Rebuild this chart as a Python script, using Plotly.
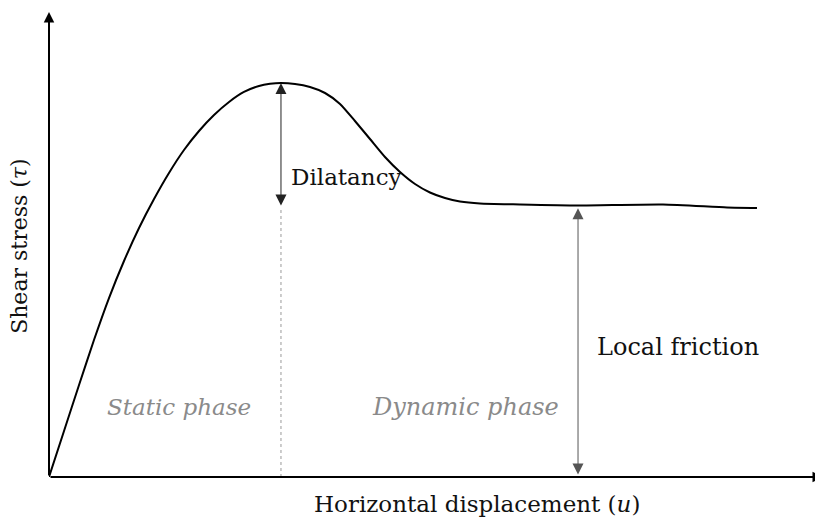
import plotly.graph_objects as go

# Shear stress curve (normalised units)
u = [0, 1.94, 3.88, 5.81, 7.75, 9.69, 11.63, 13.57, 15.50, 17.44, 19.38, 21.32,
     23.26, 25.19, 27.13, 28.55, 29.97,
     31.78, 33.72, 35.66, 37.60, 39.53, 41.47, 43.41, 45.35, 47.29, 49.22, 51.16,
     53.10, 55.68, 60.85, 68.35, 79.33, 87.60, 91.47]
tau = [0, 9.89, 19.78, 29.46, 38.49, 46.45, 53.55, 59.78, 65.38, 70.32, 74.41, 77.85,
       80.65, 82.80, 84.09, 84.56, 84.73,
       84.52, 83.87, 82.58, 80.22, 76.56, 72.69, 68.82, 65.59, 63.01, 61.18, 60.00,
       59.25, 58.82, 58.60, 58.39, 58.60, 57.96, 57.85]

friction_u = 68.35
friction_tau = 58.39
axis_max = 100

labels = {
    "dilatancy": "Dilatancy",
    "friction": "Local friction",
    "static": "Static phase",
    "dynamic": "Dynamic phase",
    "xtitle": "Horizontal displacement (<i>u</i>)",
    "ytitle": "Shear stress (<i>τ</i>)",
}

peak_i = tau.index(max(tau))
peak_u, peak_tau = u[peak_i], tau[peak_i]

FONT = "Georgia, 'DejaVu Serif', serif"

fig = go.Figure()
fig.add_trace(go.Scatter(x=u, y=tau, mode="lines",
                         line=dict(color="black", width=2, shape="spline", smoothing=0.6),
                         hoverinfo="skip", showlegend=False))
# dotted separator between phases
fig.add_trace(go.Scatter(x=[peak_u, peak_u], y=[0, friction_tau - 0.5], mode="lines",
                         line=dict(color="#999999", width=1, dash="dot"),
                         hoverinfo="skip", showlegend=False))

ann = []
# axes arrows
ann.append(dict(x=0, y=axis_max, ax=0, ay=0, xref="x", yref="y", axref="x", ayref="y",
                text="", showarrow=True, arrowhead=2, arrowsize=1.05, arrowwidth=2,
                arrowcolor="black", standoff=0, startstandoff=0))
ann.append(dict(x=axis_max, y=0, ax=0, ay=0, xref="x", yref="y", axref="x", ayref="y",
                text="", showarrow=True, arrowhead=2, arrowsize=1.05, arrowwidth=2,
                arrowcolor="black", standoff=0, startstandoff=0))
# dilatancy double arrow
ann.append(dict(x=peak_u, y=peak_tau, ax=peak_u, ay=friction_tau - 0.3, xref="x", yref="y",
                axref="x", ayref="y", text="", showarrow=True, arrowhead=2, startarrowhead=2,
                arrowside="end+start", arrowsize=2.2, startarrowsize=2.2, arrowwidth=1,
                arrowcolor="#222222"))
# local friction double arrow
ann.append(dict(x=friction_u, y=friction_tau - 0.6, ax=friction_u, ay=0.2, xref="x", yref="y",
                axref="x", ayref="y", text="", showarrow=True, arrowhead=2, startarrowhead=2,
                arrowside="end+start", arrowsize=2.2, startarrowsize=2.2, arrowwidth=1,
                arrowcolor="#555555"))
# texts
ann.append(dict(x=31.0, y=64.6, xref="x", yref="y", text=labels["dilatancy"],
                showarrow=False, xanchor="left", yanchor="middle",
                font=dict(family=FONT, size=23, color="#111111")))
ann.append(dict(x=70.54, y=27.96, xref="x", yref="y", text=labels["friction"],
                showarrow=False, xanchor="left", yanchor="middle",
                font=dict(family=FONT, size=24, color="#111111")))
ann.append(dict(x=7.24, y=15.05, xref="x", yref="y", text="<i>" + labels["static"] + "</i>",
                showarrow=False, xanchor="left", yanchor="middle",
                font=dict(family=FONT, size=23, color="#8a8a8a")))
ann.append(dict(x=41.47, y=15.05, xref="x", yref="y", text="<i>" + labels["dynamic"] + "</i>",
                showarrow=False, xanchor="left", yanchor="middle",
                font=dict(family=FONT, size=24, color="#8a8a8a")))
ann.append(dict(x=0.3398, y=-0.058, xref="paper", yref="paper", text=labels["xtitle"],
                showarrow=False, xanchor="left", yanchor="middle",
                font=dict(family=FONT, size=23, color="#111111")))
ann.append(dict(x=-0.0375, y=0.497, xref="paper", yref="paper", text=labels["ytitle"],
                showarrow=False, xanchor="center", yanchor="middle", textangle=-90,
                font=dict(family=FONT, size=22, color="#111111")))

# page has an 8px body margin, so the figure is sized/offset to compensate
fig.update_layout(
    width=815, height=516,
    margin=dict(l=41, r=0, t=4, b=47),
    plot_bgcolor="white", paper_bgcolor="white",
    xaxis=dict(range=[0, axis_max], visible=False, fixedrange=True),
    yaxis=dict(range=[0, axis_max], visible=False, fixedrange=True),
    annotations=ann,
    showlegend=False,
)
fig.write_html("out.html")
